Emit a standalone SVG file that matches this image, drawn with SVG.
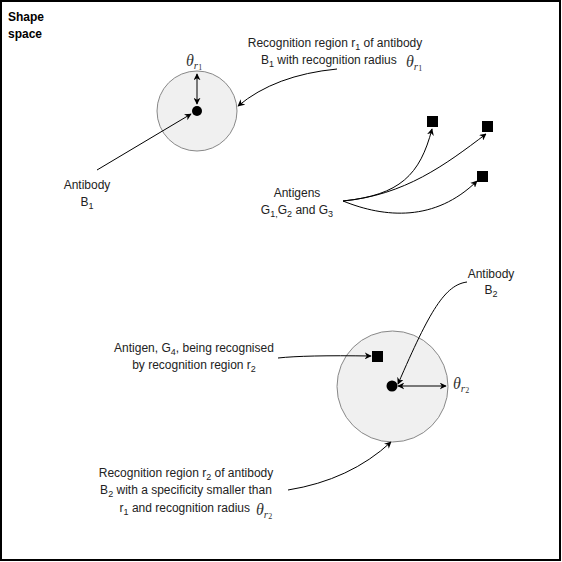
<svg xmlns="http://www.w3.org/2000/svg" width="562" height="562" viewBox="0 0 562 562">
<style>
.t{font-family:"Liberation Sans",Arial,sans-serif;font-size:12px;fill:#222}
.th{font-family:"Liberation Serif","DejaVu Serif",serif;font-style:italic;fill:#333}
.c{stroke:#000;stroke-width:1;fill:none}
.reg{fill:#f0f0f0;stroke:#888;stroke-width:1}
</style>
<defs>
<marker id="a" viewBox="0 0 10 10" refX="9" refY="5" markerWidth="7" markerHeight="7" orient="auto-start-reverse" markerUnits="userSpaceOnUse">
<path d="M0,0 L10,5 L0,10 L3,5 Z" fill="#000"/>
</marker>
</defs>
<rect x="1" y="1" width="559" height="559" fill="#fff" stroke="#000" stroke-width="2"/>
<text class="t" x="8" y="21" style="font-weight:bold;fill:#000">Shape</text>
<text class="t" x="8" y="38" style="font-weight:bold;fill:#000">space</text>

<g id="region1">
<circle class="reg" cx="197" cy="111" r="40"/>
</g>
<g id="antibodyB1dot"><circle cx="197" cy="111" r="5" fill="#000"/></g>
<g id="theta1"><text class="th" x="186" y="66" font-size="16">θ<tspan font-size="11" dy="3">r</tspan><tspan font-size="8" dy="1" font-style="normal">1</tspan></text></g>

<g id="region2">
<circle class="reg" cx="392.5" cy="386.5" r="55.5"/>
</g>
<g id="antibodyB2dot"><circle cx="392" cy="386" r="5.5" fill="#000"/></g>
<g id="theta2"><text class="th" x="453" y="389" font-size="16">θ<tspan font-size="11" dy="3">r</tspan><tspan font-size="8" dy="1" font-style="normal">2</tspan></text></g>

<g id="antigens">
<rect x="427" y="116" width="11" height="11" fill="#000"/>
<rect x="482" y="121" width="11" height="11" fill="#000"/>
<rect x="477" y="171" width="11" height="11" fill="#000"/>
<rect x="372" y="351" width="11" height="11" fill="#000"/>
</g>

<g id="labelB1">
<text class="t" x="87" y="189" text-anchor="middle">Antibody</text>
<text class="t" x="87" y="206" text-anchor="middle">B<tspan font-size="9" dy="3">1</tspan></text>
</g>
<g id="labelR1">
<text class="t" x="335" y="47" text-anchor="middle">Recognition region r<tspan font-size="9" dy="3">1</tspan><tspan dy="-3"> of antibody</tspan></text>
<text class="t" x="261" y="64">B<tspan font-size="9" dy="3">1</tspan><tspan dy="-3"> with recognition radius</tspan></text>
<text class="th" x="406" y="67" font-size="16">θ<tspan font-size="11" dy="3">r</tspan><tspan font-size="8" dy="1" font-style="normal">1</tspan></text>
</g>
<g id="labelAntigens">
<text class="t" x="297" y="197" text-anchor="middle">Antigens</text>
<text class="t" x="297" y="214" text-anchor="middle">G<tspan font-size="9" dy="3">1,</tspan><tspan dy="-3">G</tspan><tspan font-size="9" dy="3">2</tspan><tspan dy="-3"> and G</tspan><tspan font-size="9" dy="3">3</tspan></text>
</g>
<g id="labelB2">
<text class="t" x="491" y="278" text-anchor="middle">Antibody</text>
<text class="t" x="491" y="294" text-anchor="middle">B<tspan font-size="9" dy="3">2</tspan></text>
</g>
<g id="labelG4">
<text class="t" x="194" y="352" text-anchor="middle">Antigen, G<tspan font-size="9" dy="3">4</tspan><tspan dy="-3">, being recognised</tspan></text>
<text class="t" x="194" y="369" text-anchor="middle">by recognition region r<tspan font-size="9" dy="3">2</tspan></text>
</g>
<g id="labelR2">
<text class="t" x="186" y="477" text-anchor="middle">Recognition region r<tspan font-size="9" dy="3">2</tspan><tspan dy="-3"> of antibody</tspan></text>
<text class="t" x="186" y="494" text-anchor="middle">B<tspan font-size="9" dy="3">2</tspan><tspan dy="-3"> with a specificity smaller than</tspan></text>
<text class="t" x="250" y="512" text-anchor="end">r<tspan font-size="9" dy="3">1</tspan><tspan dy="-3"> and recognition radius</tspan></text>
<text class="th" x="256" y="515" font-size="16">θ<tspan font-size="11" dy="3">r</tspan><tspan font-size="8" dy="1" font-style="normal">2</tspan></text>
</g>

<g id="connectors">
<path class="c" d="M197,104 L197,74" marker-start="url(#a)" marker-end="url(#a)"/>
<path class="c" d="M398,386 L446,386" marker-start="url(#a)" marker-end="url(#a)"/>
<path class="c" d="M97,170 L191,114" marker-end="url(#a)"/>
<path class="c" d="M337,69 Q275,75 238,106" marker-end="url(#a)"/>
<path class="c" d="M343,201 C400,195 420,175 432,129" marker-end="url(#a)"/>
<path class="c" d="M343,201 C405,195 445,165 486,134" marker-end="url(#a)"/>
<path class="c" d="M343,201 C385,218 435,222 477,181" marker-end="url(#a)"/>
<path class="c" d="M278,358 Q305,355 371,356" marker-end="url(#a)"/>
<path class="c" d="M467,282 C445,285 430,310 398,384" marker-end="url(#a)"/>
<path class="c" d="M288,490 Q350,480 391,442" marker-end="url(#a)"/>
</g>
</svg>
